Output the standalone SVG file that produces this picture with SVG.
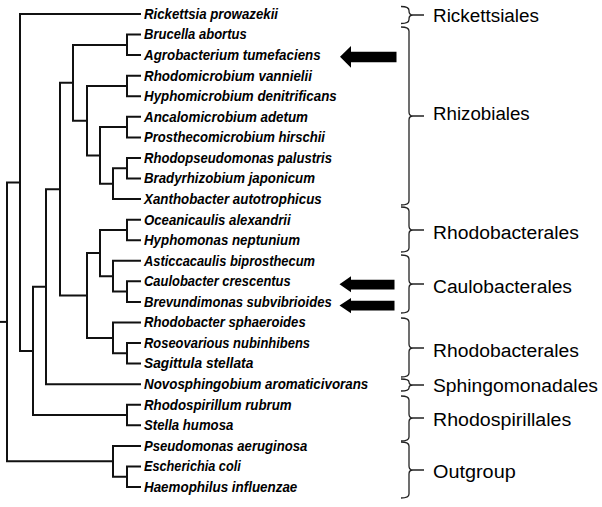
<svg xmlns="http://www.w3.org/2000/svg" width="602" height="507" viewBox="0 0 602 507">
<style>
.tree{fill:none;stroke:#111;stroke-width:2;stroke-linejoin:miter;stroke-linecap:square}
.sp{font-family:"Liberation Sans",Arial,sans-serif;font-size:14px;font-weight:bold;font-style:italic;fill:#000}
.ord{font-family:"Liberation Sans",Arial,sans-serif;font-size:18.8px;fill:#000}
.brace{fill:none;stroke:#222;stroke-width:1.3}
.arrow{fill:#000}
</style>
<rect width="602" height="507" fill="#fff"/>
<g id="connectors" class="tree">
<path d="M1 321.9H7"/>
<path d="M20 182.4H7V461.3H113"/>
<path d="M140 14H20V350.9H33"/>
<path d="M46 286.7H33V415H127"/>
<path d="M60 189.2H46V384.2H140"/>
<path d="M73 82.8H60V295.5H87"/>
<path d="M127 44.9H73V120.7H87"/>
<path d="M140 34.6H127V55.1H140"/>
<path d="M127 86H87V155.4H100"/>
<path d="M140 75.7H127V96.3H140"/>
<path d="M127 127.1H100V183.7H113"/>
<path d="M140 116.8H127V137.4H140"/>
<path d="M127 168.3H113V199.1H140"/>
<path d="M140 158H127V178.5H140"/>
<path d="M100 253.1H87V337.9H113"/>
<path d="M127 230H100V276.2H113"/>
<path d="M140 219.7H127V240.2H140"/>
<path d="M140 260.8H113V291.6H127"/>
<path d="M140 281.3H127V301.9H140"/>
<path d="M140 322.5H113V353.3H127"/>
<path d="M140 343H127V363.6H140"/>
<path d="M140 404.7H127V425.3H140"/>
<path d="M140 445.9H113V476.7H127"/>
<path d="M140 466.4H127V487H140"/>
</g>
<g id="leaf-rickettsia"><text class="sp" x="144" y="18.8" textLength="134" lengthAdjust="spacingAndGlyphs">Rickettsia prowazekii</text></g>
<g id="leaf-brucella"><text class="sp" x="144" y="39.4" textLength="102.7" lengthAdjust="spacingAndGlyphs">Brucella abortus</text></g>
<g id="leaf-agrobacterium"><text class="sp" x="144" y="59.9" textLength="176.7" lengthAdjust="spacingAndGlyphs">Agrobacterium tumefaciens</text></g>
<g id="leaf-rhodomicrobium"><text class="sp" x="144" y="80.5" textLength="168" lengthAdjust="spacingAndGlyphs">Rhodomicrobium vannielii</text></g>
<g id="leaf-hyphomicrobium"><text class="sp" x="144" y="101.1" textLength="192.7" lengthAdjust="spacingAndGlyphs">Hyphomicrobium denitrificans</text></g>
<g id="leaf-ancalomicrobium"><text class="sp" x="144" y="121.6" textLength="164" lengthAdjust="spacingAndGlyphs">Ancalomicrobium adetum</text></g>
<g id="leaf-prosthecomicrobium"><text class="sp" x="144" y="142.2" textLength="181" lengthAdjust="spacingAndGlyphs">Prosthecomicrobium hirschii</text></g>
<g id="leaf-rhodopseudomonas"><text class="sp" x="144" y="162.8" textLength="188" lengthAdjust="spacingAndGlyphs">Rhodopseudomonas palustris</text></g>
<g id="leaf-bradyrhizobium"><text class="sp" x="144" y="183.3" textLength="171" lengthAdjust="spacingAndGlyphs">Bradyrhizobium japonicum</text></g>
<g id="leaf-xanthobacter"><text class="sp" x="144" y="203.9" textLength="177.7" lengthAdjust="spacingAndGlyphs">Xanthobacter autotrophicus</text></g>
<g id="leaf-oceanicaulis"><text class="sp" x="144" y="224.5" textLength="146.7" lengthAdjust="spacingAndGlyphs">Oceanicaulis alexandrii</text></g>
<g id="leaf-hyphomonas"><text class="sp" x="144" y="245" textLength="156" lengthAdjust="spacingAndGlyphs">Hyphomonas neptunium</text></g>
<g id="leaf-asticcacaulis"><text class="sp" x="144" y="265.6" textLength="171" lengthAdjust="spacingAndGlyphs">Asticcacaulis biprosthecum</text></g>
<g id="leaf-caulobacter"><text class="sp" x="144" y="286.1" textLength="146.7" lengthAdjust="spacingAndGlyphs">Caulobacter crescentus</text></g>
<g id="leaf-brevundimonas"><text class="sp" x="144" y="306.7" textLength="187.7" lengthAdjust="spacingAndGlyphs">Brevundimonas subvibrioides</text></g>
<g id="leaf-rhodobacter"><text class="sp" x="144" y="327.3" textLength="161.7" lengthAdjust="spacingAndGlyphs">Rhodobacter sphaeroides</text></g>
<g id="leaf-roseovarious"><text class="sp" x="144" y="347.8" textLength="166" lengthAdjust="spacingAndGlyphs">Roseovarious nubinhibens</text></g>
<g id="leaf-sagittula"><text class="sp" x="144" y="368.4" textLength="109.3" lengthAdjust="spacingAndGlyphs">Sagittula stellata</text></g>
<g id="leaf-novosphingobium"><text class="sp" x="144" y="389" textLength="224.3" lengthAdjust="spacingAndGlyphs">Novosphingobium aromaticivorans</text></g>
<g id="leaf-rhodospirillum"><text class="sp" x="144" y="409.5" textLength="147.7" lengthAdjust="spacingAndGlyphs">Rhodospirillum rubrum</text></g>
<g id="leaf-stella"><text class="sp" x="144" y="430.1" textLength="89.3" lengthAdjust="spacingAndGlyphs">Stella humosa</text></g>
<g id="leaf-pseudomonas"><text class="sp" x="144" y="450.7" textLength="163.3" lengthAdjust="spacingAndGlyphs">Pseudomonas aeruginosa</text></g>
<g id="leaf-escherichia"><text class="sp" x="144" y="471.2" textLength="96.7" lengthAdjust="spacingAndGlyphs">Escherichia coli</text></g>
<g id="leaf-haemophilus"><text class="sp" x="144" y="491.8" textLength="153.3" lengthAdjust="spacingAndGlyphs">Haemophilus influenzae</text></g>

<g id="arrow-agrobacterium"><polygon class="arrow" points="340,56.8 351,46 351,51.8 396.5,51.8 396.5,62.2 351,62.2 351,67.8"/></g>
<g id="arrow-caulobacter"><polygon class="arrow" points="339.5,284.2 351,276.3 351,279.7 394.5,279.7 394.5,289.6 351,289.6 351,292.2"/></g>
<g id="arrow-brevundimonas"><polygon class="arrow" points="339.5,305.6 351,298 351,300.7 394.5,300.7 394.5,310.6 351,310.6 351,313.2"/></g>

<g id="order-rickettsiales">
<path class="brace" d="M401 6.5Q409 6.5 409 10.5V11Q409 15 413 15Q409 15 409 19V19.5Q409 23.5 401 23.5M413 15H424"/>
<text class="ord" x="433" y="22" textLength="106" lengthAdjust="spacingAndGlyphs">Rickettsiales</text>
</g>
<g id="order-rhizobiales">
<path class="brace" d="M401 27Q409 27 409 31V112Q409 116 413 116Q409 116 409 120V201Q409 205 401 205M413 116H424"/>
<text class="ord" x="433" y="119.5" textLength="96.7" lengthAdjust="spacingAndGlyphs">Rhizobiales</text>
</g>
<g id="order-rhodobacterales-1">
<path class="brace" d="M401 207Q409 207 409 211V226Q409 230 413 230Q409 230 409 234V248Q409 252 401 252M413 230H424"/>
<text class="ord" x="433" y="238.5" textLength="146" lengthAdjust="spacingAndGlyphs">Rhodobacterales</text>
</g>
<g id="order-caulobacterales">
<path class="brace" d="M401 255Q409 255 409 259V280Q409 284 413 284Q409 284 409 288V309Q409 313 401 313M413 284H424"/>
<text class="ord" x="433" y="292.5" textLength="139" lengthAdjust="spacingAndGlyphs">Caulobacterales</text>
</g>
<g id="order-rhodobacterales-2">
<path class="brace" d="M401 318Q409 318 409 322V344Q409 348 413 348Q409 348 409 352V373Q409 377 401 377M413 348H424"/>
<text class="ord" x="433" y="356.5" textLength="146" lengthAdjust="spacingAndGlyphs">Rhodobacterales</text>
</g>
<g id="order-sphingomonadales">
<path class="brace" d="M401 379Q409 379 409 382V382Q409 385 413 385Q409 385 409 388V388Q409 391 401 391M413 385H424"/>
<text class="ord" x="433" y="392" textLength="165" lengthAdjust="spacingAndGlyphs">Sphingomonadales</text>
</g>
<g id="order-rhodospirillales">
<path class="brace" d="M401 396Q409 396 409 400V414Q409 418 413 418Q409 418 409 422V437Q409 441 401 441M413 418H424"/>
<text class="ord" x="433" y="426" textLength="138.3" lengthAdjust="spacingAndGlyphs">Rhodospirillales</text>
</g>
<g id="order-outgroup">
<path class="brace" d="M401 442Q409 442 409 446V466Q409 470 413 470Q409 470 409 474V494Q409 498 401 498M413 470H424"/>
<text class="ord" x="433" y="478" textLength="82.7" lengthAdjust="spacingAndGlyphs">Outgroup</text>
</g>
</svg>
